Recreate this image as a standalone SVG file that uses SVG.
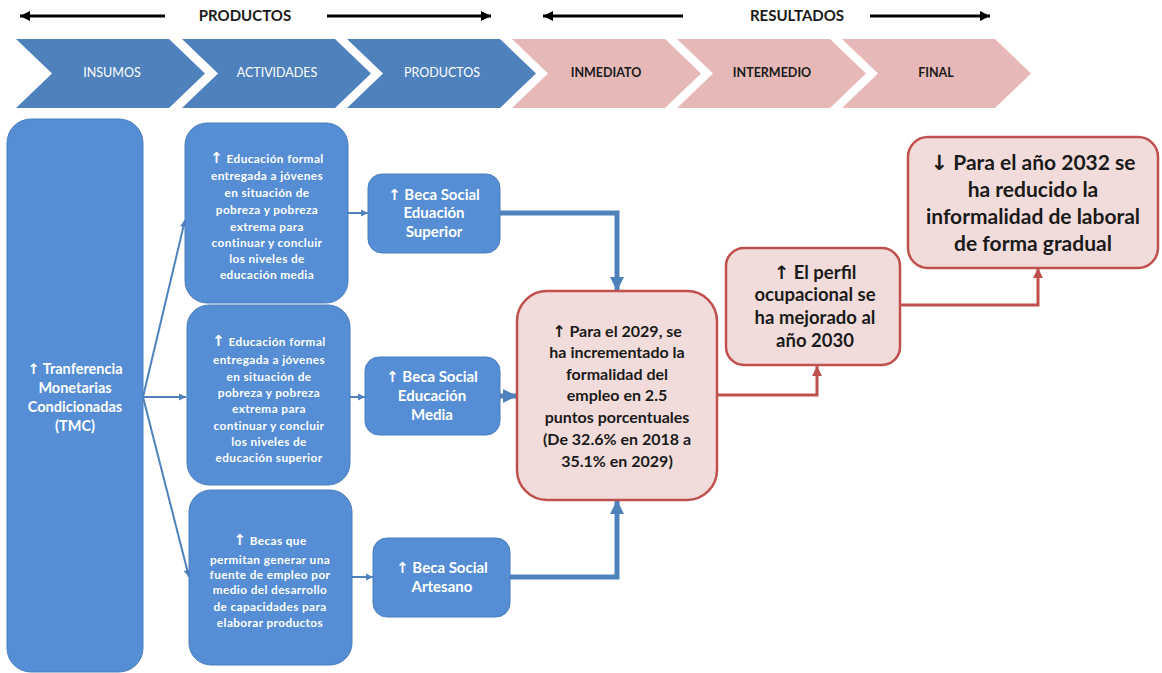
<svg xmlns="http://www.w3.org/2000/svg" width="1162" height="673" viewBox="0 0 1162 673">
<defs>
<style>
.chb{fill:#4F81BD}
.chp{fill:#E6B9B8}
.bb{fill:#558ED5;stroke:#4A7EBB;stroke-width:1}
.pb{fill:#F2DCDB;stroke:#C0504D;stroke-width:2.5}
.hd{font-family:Lato,"Liberation Sans",sans-serif;font-weight:bold;font-size:15px;fill:#1a1a1a;text-anchor:middle}
.cw{font-family:Lato,"Liberation Sans",sans-serif;font-size:12.5px;fill:#ffffff;text-anchor:middle}
.cp{font-family:Lato,"Liberation Sans",sans-serif;font-weight:bold;font-size:12.5px;fill:#1a1a1a;text-anchor:middle}
.tw{font-family:Lato,"Liberation Sans",sans-serif;font-weight:bold;fill:#ffffff;text-anchor:middle}
.tp{font-family:Lato,"Liberation Sans",sans-serif;font-weight:bold;fill:#1a1a1a;text-anchor:middle}
.sm{letter-spacing:0.4px}
.ar{font-family:"DejaVu Sans",sans-serif;font-weight:bold}
.hl{stroke:#000;stroke-width:3;fill:none}
.thin{stroke:#4F81BD;stroke-width:2;fill:none}
.thick{stroke:#4F81BD;stroke-width:5;fill:none}
.red{stroke:#C0504D;stroke-width:3;fill:none}
</style>
<marker id="ahk" viewBox="0 0 10 10" refX="10" refY="5" markerUnits="userSpaceOnUse" markerWidth="13" markerHeight="10" orient="auto"><path d="M0,0 L10,5 L0,10 z" fill="#000"/></marker>
<marker id="ahs" viewBox="0 0 10 10" refX="10" refY="5" markerUnits="userSpaceOnUse" markerWidth="8" markerHeight="7" orient="auto"><path d="M0,0 L10,5 L0,10 z" fill="#4F81BD"/></marker>
<marker id="ahb" viewBox="0 0 10 10" refX="10" refY="5" markerUnits="userSpaceOnUse" markerWidth="14" markerHeight="15" orient="auto"><path d="M0,0 L10,5 L0,10 z" fill="#4F81BD"/></marker>
<marker id="ahr" viewBox="0 0 10 10" refX="10" refY="5" markerUnits="userSpaceOnUse" markerWidth="10" markerHeight="10" orient="auto"><path d="M0,0 L10,5 L0,10 z" fill="#C0504D"/></marker>
</defs>
<rect width="1162" height="673" fill="#ffffff"/>

<g id="header">
<line class="hl" x1="165" y1="16" x2="20" y2="16" marker-end="url(#ahk)"/>
<text class="hd" x="245" y="21">PRODUCTOS</text>
<line class="hl" x1="327" y1="16" x2="491" y2="16" marker-end="url(#ahk)"/>
<line class="hl" x1="683" y1="16" x2="543" y2="16" marker-end="url(#ahk)"/>
<text class="hd" x="797" y="21">RESULTADOS</text>
<line class="hl" x1="870" y1="16" x2="990" y2="16" marker-end="url(#ahk)"/>
</g>

<g id="chevrons">
<g id="ch-insumos"><path class="chb" d="M16,39 H169 L205,73.5 L169,108 H16 L52,73.5 Z"/><text class="cw" x="112" y="77">INSUMOS</text></g>
<g id="ch-actividades"><path class="chb" d="M182,39 H335 L371,73.5 L335,108 H182 L218,73.5 Z"/><text class="cw" x="277" y="77">ACTIVIDADES</text></g>
<g id="ch-productos"><path class="chb" d="M347,39 H500 L536,73.5 L500,108 H347 L383,73.5 Z"/><text class="cw" x="442" y="77">PRODUCTOS</text></g>
<g id="ch-inmediato"><path class="chp" d="M512,39 H665 L701,73.5 L665,108 H512 L548,73.5 Z"/><text class="cp" x="606" y="77">INMEDIATO</text></g>
<g id="ch-intermedio"><path class="chp" d="M677,39 H830 L866,73.5 L830,108 H677 L713,73.5 Z"/><text class="cp" x="772" y="77">INTERMEDIO</text></g>
<g id="ch-final"><path class="chp" d="M842,39 H995 L1031,73.5 L995,108 H842 L878,73.5 Z"/><text class="cp" x="936" y="77">FINAL</text></g>
</g>

<g id="connectors">
<line class="thin" x1="143" y1="397" x2="185" y2="220" marker-end="url(#ahs)"/>
<line class="thin" x1="143" y1="397" x2="186" y2="397" marker-end="url(#ahs)"/>
<line class="thin" x1="143" y1="397" x2="189" y2="577" marker-end="url(#ahs)"/>
<line class="thin" x1="348" y1="213" x2="368" y2="213" marker-end="url(#ahs)"/>
<line class="thin" x1="350" y1="397" x2="365" y2="397" marker-end="url(#ahs)"/>
<line class="thin" x1="352" y1="577" x2="373" y2="577" marker-end="url(#ahs)"/>
<polyline class="thick" points="500,213 617,213 617,291" marker-end="url(#ahb)"/>
<line class="thick" x1="500" y1="396" x2="517" y2="396" marker-end="url(#ahb)"/>
<polyline class="thick" points="510,577 617,577 617,500" marker-end="url(#ahb)"/>
<polyline class="red" points="717,395 817,395 817,366" marker-end="url(#ahr)"/>
<polyline class="red" points="900,305 1038,305 1038,268" marker-end="url(#ahr)"/>
</g>

<g id="n-tmc">
<rect class="bb" x="7" y="119" width="136" height="553" rx="24"/>
<text class="tw" font-size="14.5"><tspan x="75" y="374"><tspan class="ar">↑</tspan> Tranferencia</tspan><tspan x="75" y="393">Monetarias</tspan><tspan x="75" y="412">Condicionadas</tspan><tspan x="75" y="431">(TMC)</tspan></text>
</g>

<g id="n-act1">
<rect class="bb" x="185" y="123" width="163" height="180" rx="22"/>
<text class="tw sm" font-size="11.8"><tspan x="267" y="163"><tspan class="ar" font-size="15">↑</tspan> Educación formal</tspan><tspan x="267" y="180">entregada a jóvenes</tspan><tspan x="267" y="197">en situación de</tspan><tspan x="267" y="214">pobreza y pobreza</tspan><tspan x="267" y="231">extrema para</tspan><tspan x="267" y="247">continuar y concluir</tspan><tspan x="267" y="263">los niveles de</tspan><tspan x="267" y="279">educación media</tspan></text>
</g>

<g id="n-act2">
<rect class="bb" x="187" y="305" width="163" height="180" rx="22"/>
<text class="tw sm" font-size="11.8"><tspan x="269" y="346"><tspan class="ar" font-size="15">↑</tspan> Educación formal</tspan><tspan x="269" y="364">entregada a jóvenes</tspan><tspan x="269" y="381">en situación de</tspan><tspan x="269" y="397">pobreza y pobreza</tspan><tspan x="269" y="413">extrema para</tspan><tspan x="269" y="430">continuar y concluir</tspan><tspan x="269" y="446">los niveles de</tspan><tspan x="269" y="462">educación superior</tspan></text>
</g>

<g id="n-act3">
<rect class="bb" x="189" y="490" width="163" height="175" rx="22"/>
<text class="tw sm" font-size="11.8"><tspan x="270" y="545"><tspan class="ar" font-size="15">↑</tspan> Becas que</tspan><tspan x="270" y="564">permitan generar una</tspan><tspan x="270" y="579">fuente de empleo por</tspan><tspan x="270" y="594">medio del desarrollo</tspan><tspan x="270" y="611">de capacidades para</tspan><tspan x="270" y="627">elaborar productos</tspan></text>
</g>

<g id="n-beca-superior">
<rect class="bb" x="368" y="174" width="132" height="79" rx="14"/>
<text class="tw" font-size="15"><tspan x="434" y="200"><tspan class="ar">↑</tspan> Beca Social</tspan><tspan x="434" y="218">Eduación</tspan><tspan x="434" y="237">Superior</tspan></text>
</g>

<g id="n-beca-media">
<rect class="bb" x="365" y="357" width="135" height="78" rx="14"/>
<text class="tw" font-size="15"><tspan x="432" y="382"><tspan class="ar">↑</tspan> Beca Social</tspan><tspan x="432" y="401">Educación</tspan><tspan x="432" y="420">Media</tspan></text>
</g>

<g id="n-beca-artesano">
<rect class="bb" x="373" y="538" width="137" height="79" rx="14"/>
<text class="tw" font-size="15"><tspan x="442" y="573"><tspan class="ar">↑</tspan> Beca Social</tspan><tspan x="442" y="592">Artesano</tspan></text>
</g>

<g id="n-inmediato">
<rect class="pb" x="517" y="291" width="200" height="209" rx="30"/>
<text class="tp" font-size="16"><tspan x="617" y="337"><tspan class="ar">↑</tspan> Para el 2029, se</tspan><tspan x="617" y="358">ha incrementado la</tspan><tspan x="617" y="380">formalidad del</tspan><tspan x="617" y="401">empleo en 2.5</tspan><tspan x="617" y="423">puntos porcentuales</tspan><tspan x="617" y="445">(De 32.6% en 2018 a</tspan><tspan x="617" y="467">35.1% en 2029)</tspan></text>
</g>

<g id="n-intermedio">
<rect class="pb" x="726" y="248" width="174" height="117" rx="18"/>
<text class="tp" font-size="18.5"><tspan x="815" y="279"><tspan class="ar">↑</tspan> El perfil</tspan><tspan x="815" y="301">ocupacional se</tspan><tspan x="815" y="324">ha mejorado al</tspan><tspan x="815" y="347">año 2030</tspan></text>
</g>

<g id="n-final">
<rect class="pb" x="908" y="137" width="250" height="131" rx="20"/>
<text class="tp" font-size="21"><tspan x="1033" y="170"><tspan class="ar">↓</tspan> Para el año 2032 se</tspan><tspan x="1033" y="197">ha reducido la</tspan><tspan x="1033" y="224">informalidad de laboral</tspan><tspan x="1033" y="251">de forma gradual</tspan></text>
</g>
</svg>
